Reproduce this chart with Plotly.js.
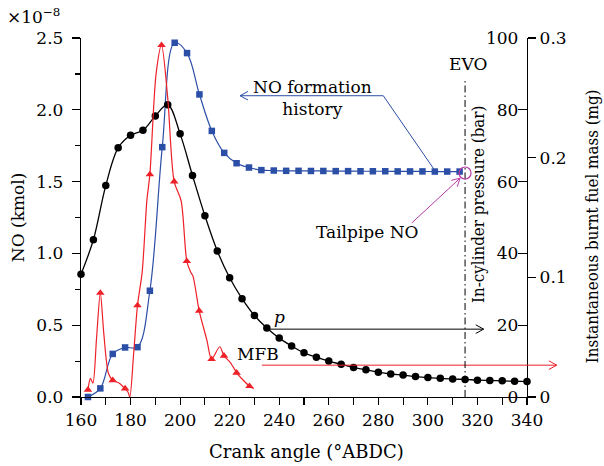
<!DOCTYPE html>
<html><head><meta charset="utf-8">
<script src="https://cdn.plot.ly/plotly-3.0.1.min.js"></script>
<style>html,body{margin:0;padding:0;background:#fff}</style>
</head><body><div id="chart" style="width:604px;height:466px"></div>
<script>
// In-cylinder pressure p (bar), every 5 deg
const pAngle = [160,165,170,175,180,185,190,195,200,205,210,215,220,225,230,235,240,245,250,255,260,265,270,275,280,285,290,295,300,305,310,315,320,325,330,335,340];
const pressure = [34.2,43.8,58.9,69.4,72.9,74.3,78.3,81.4,73.3,61.7,50.5,40.7,33.2,27.4,22.7,19.2,16.4,14.2,12.3,11.1,10.0,9.1,8.2,7.6,6.9,6.4,6.1,5.7,5.4,5.2,5.0,4.9,4.7,4.6,4.5,4.4,4.3];

// NO formation history (x1e-8 kmol)
const noAngle = [162.8,167.8,172.8,177.8,182.8,187.8,192.8,197.8,202.8,207.8,212.8,217.8,222.8,227.8,232.8,237.8,242.8,247.8,252.8,257.8,262.8,267.8,272.8,277.8,282.8,287.8,292.8,297.8,302.8,307.8,312.8];
const noValue = [0.00,0.06,0.30,0.345,0.347,0.74,1.74,2.467,2.395,2.107,1.853,1.70,1.628,1.598,1.58,1.577,1.575,1.575,1.574,1.574,1.573,1.573,1.572,1.572,1.572,1.571,1.571,1.571,1.570,1.570,1.570];

// Instantaneous burnt fuel mass (mg): curve and triangle markers
const mfbLineAngle = [162.8,163.8,164.8,166.3,167.8,169.2,171.1,172.8,175.3,177.8,179.0,179.7,181.2,182.8,184.7,186.6,187.8,190.3,192.5,195.0,197.6,200.4,202.7,204.2,205.2,207.7,210.8,212.7,216.0,217.7,220.2,222.2,222.8,225.5,228.0,229.7];
const mfbLine = [0.006,0.0155,0.0115,0.05,0.087,0.053,0.0196,0.014,0.0118,0.007,0.004,0.0,0.035,0.0765,0.1046,0.1645,0.186,0.27,0.294,0.25,0.18,0.164,0.1135,0.1046,0.101,0.072,0.0475,0.0316,0.042,0.0344,0.029,0.0224,0.0202,0.014,0.009,0.007];
const mfbMarkAngle = [162.8,167.8,172.8,177.8,182.8,187.8,192.5,197.6,202.7,207.7,212.7,217.7,222.8,228.0];
const mfbMark = [0.006,0.087,0.014,0.007,0.0765,0.186,0.294,0.18,0.1135,0.072,0.0316,0.0344,0.0202,0.009];

const xTicks = [160,180,200,220,240,260,280,300,320,340];

const X0 = 160, X1 = 340, NOMAX = 2.5, PMAX = 100, MMAX = 0.3;
const L = 81, R = 77, T = 38, B = 69, W = 604, H = 466;
const PW = W - L - R, PH = H - T - B;
const xp = d => (d - X0) / (X1 - X0);
const ypNO = v => v / NOMAX;
const ypP = v => v / PMAX;
const ypM = v => v / MMAX;

const BLUE = '#2b4ea6', RED = '#ee2028', MAG = '#b83aa8';
const FONT = '"DejaVu Serif", serif';
const FONTC = '"DejaVu Serif Condensed", "DejaVu Serif", serif';
const FS = 17;
const fnt = (size, fam) => ({family: fam || FONT, size: size || FS, color: '#000'});

const traces = [
  {x: pAngle, y: pressure, yaxis: 'y2', mode: 'lines+markers', line: {color: '#000', width: 1.3, shape: 'spline'},
   marker: {symbol: 'circle', size: 7.5, color: '#000'}, cliponaxis: false},
  {x: mfbLineAngle, y: mfbLine, yaxis: 'y3', mode: 'lines', line: {color: RED, width: 1.2, shape: 'spline', smoothing: 0.8}, cliponaxis: false},
  {x: mfbMarkAngle, y: mfbMark, yaxis: 'y3', mode: 'markers', marker: {symbol: 'triangle-up', size: 7.5, color: RED}, cliponaxis: false},
  {x: noAngle, y: noValue, yaxis: 'y', mode: 'lines+markers', line: {color: BLUE, width: 1.2, shape: 'spline'},
   marker: {symbol: 'square', size: 6.5, color: BLUE}, cliponaxis: false}
];

const txt = (text, x, y, extra, size, fam) => Object.assign({text: text, x: x, y: y, xref: 'paper', yref: 'paper', showarrow: false,
  font: fnt(size, fam), xanchor: 'center', yanchor: 'middle'}, extra || {});

// arrow drawn as line + open chevron head, all in paper coordinates (pixel-sized head)
function arrowShapes(x0, y0, x1, y1, color) {
  const ang = Math.atan2((y1 - y0) * PH, (x1 - x0) * PW);
  const len = 9, half = 0.5;
  const pts = [ang + half, ang - half].map(a => [x1 - len * Math.cos(a) / PW, y1 - len * Math.sin(a) / PH]);
  return [
    {type: 'line', xref: 'paper', yref: 'paper', x0: x0, y0: y0, x1: x1, y1: y1, line: {color: color, width: 1}},
    {type: 'path', xref: 'paper', yref: 'paper',
     path: `M${pts[0][0]},${pts[0][1]} L${x1},${y1} L${pts[1][0]},${pts[1][1]}`, line: {color: color, width: 1}}
  ];
}

const annotations = [
  txt('×10<sup>−8</sup>', -0.17, 1.06, {xanchor: 'left'}),
  txt('NO (kmol)', -0.142, 0.5, {textangle: -90}),
  txt('In-cylinder pressure (bar)', 0.890, 0.5376, {textangle: -90}, 16.8, FONTC),
  txt('Instantaneous burnt fuel mass (mg)', 1.146, 0.476, {textangle: -90}, 16.8, FONTC),
  txt('Crank angle (°ABDC)', 0.5045, -0.153, null, 18),
  txt('NO formation<br>history', xp(253.5), ypNO(2.085)),
  txt('Tailpipe NO', xp(275.8), ypNO(1.149)),
  txt('EVO', xp(316.2), ypNO(2.321)),
  txt('<i>p</i>', xp(240.3), ypNO(0.56)),
  txt('MFB', xp(231.4), ypNO(0.3))
];

const shapes = [].concat(
  arrowShapes(xp(282), ypNO(2.098), xp(224.2), ypNO(2.098), BLUE),
  [{type: 'line', xref: 'paper', yref: 'paper', x0: xp(282), y0: ypNO(2.098), x1: xp(302.5), y1: ypNO(1.585), line: {color: BLUE, width: 1}}],
  arrowShapes(xp(235), ypP(18.9), xp(322.5), ypP(18.9), '#000'),
  arrowShapes(xp(233), ypM(0.0266), xp(352), ypM(0.0266), RED),
  arrowShapes(xp(293.5), ypNO(1.212), xp(313.0), ypNO(1.524), MAG),
  [{type: 'line', xref: 'x', yref: 'y', x0: 315, x1: 315, y0: 0, y1: 2.21, line: {color: '#000', width: 1, dash: '7px,3px,1.5px,3px'}},
   {type: 'circle', xref: 'x', yref: 'y', xsizemode: 'pixel', ysizemode: 'pixel', xanchor: 315, yanchor: 1.56,
    x0: -6, x1: 6, y0: -6, y1: 6, line: {color: MAG, width: 1.2}}]
);

const axBase = {showgrid: false, zeroline: false, showline: true, linecolor: '#000', linewidth: 1.2,
  tickcolor: '#000', tickwidth: 1.2, tickfont: fnt(FS)};

const layout = {
  width: W, height: H,
  margin: {l: L, r: R, t: T, b: B, pad: 0},
  paper_bgcolor: '#fff', plot_bgcolor: '#fff',
  font: fnt(FS),
  showlegend: false,
  xaxis: Object.assign({}, axBase, {range: [X0, X1 + 0.001], tickvals: xTicks, ticktext: xTicks.map(String),
    ticks: 'outside', ticklen: 7, minor: {dtick: 10, tick0: 160, ticks: 'outside', ticklen: 7, tickcolor: '#000', tickwidth: 1.2, showgrid: false}}),
  yaxis: Object.assign({}, axBase, {range: [0, NOMAX], dtick: 0.5, tick0: 0, tickformat: '.1f', ticks: 'outside', ticklen: 8,
    ticklabelstandoff: 5,
    minor: {dtick: 0.25, tick0: 0, ticks: 'outside', ticklen: 5, tickcolor: '#000', tickwidth: 1.2, showgrid: false}}),
  yaxis2: Object.assign({}, axBase, {overlaying: 'y', side: 'right', anchor: 'x', range: [0, PMAX], dtick: 20, tick0: 0,
    ticks: 'inside', ticklen: 9, ticklabelposition: 'inside', ticklabeloverflow: 'allow'}),
  yaxis3: Object.assign({}, axBase, {overlaying: 'y', side: 'right', anchor: 'x', range: [0, MMAX], dtick: 0.1, tick0: 0,
    ticks: 'outside', ticklen: 8}),
  annotations: annotations,
  shapes: shapes
};

Plotly.newPlot('chart', traces, layout, {displayModeBar: false, staticPlot: true});
</script></body></html>
